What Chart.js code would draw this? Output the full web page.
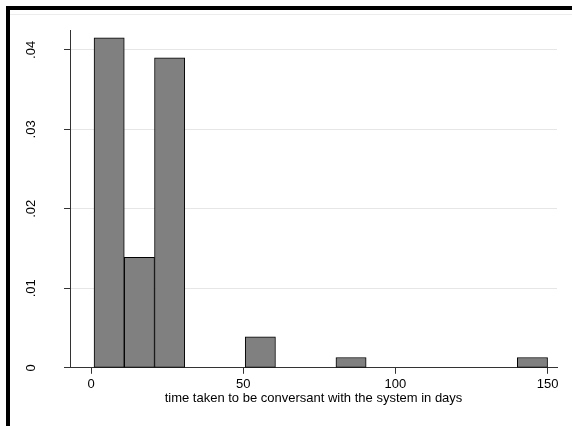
<!DOCTYPE html>
<html>
<head>
<meta charset="utf-8">
<script src="https://cdn.jsdelivr.net/npm/chart.js@4"></script>
<style>
  html, body { margin: 0; padding: 0; background: #fff; }
  #wrap { position: relative; width: 572px; height: 426px; overflow: hidden; }
  #frameTop { position: absolute; left: 6px; top: 6px; width: 566px; height: 4px; background: #000; }
  #frameLeft { position: absolute; left: 6px; top: 6px; width: 4px; height: 420px; background: #000; }
  #faint { position: absolute; left: 10px; top: 14px; width: 562px; height: 1px; background: #ececec; }
  canvas { position: absolute; left: 0; top: 0; }
</style>
</head>
<body>
<div id="wrap">
  <canvas id="hist" width="572" height="426"></canvas>
  <div id="faint"></div>
  <div id="frameTop"></div>
  <div id="frameLeft"></div>
</div>
<script>
// histogram bin edges (days) and density heights per bin
const binEdges = [1, 10.93, 20.87, 30.8, 40.73, 50.67, 60.6, 70.53, 80.47, 90.4, 100.33, 110.27, 120.2, 130.13, 140.07, 150];
const density = [0.0415, 0.0139, 0.0390, 0, 0, 0.0039, 0, 0, 0.0013, 0, 0, 0, 0, 0, 0.0013];
const xTicks = [0, 50, 100, 150];
const yTicks = [0, 0.01, 0.02, 0.03, 0.04];
const yTickLabels = ['0', '.01', '.02', '.03', '.04'];
const xTitle = 'time taken to be conversant with the system in days';

const FONT = 'Arial, "Liberation Sans", Helvetica, sans-serif';

// bars are placed at bin centres
let points = density.map((d, i) => ({ x: (binEdges[i] + binEdges[i + 1]) / 2, y: d }));

// y tick labels in Stata are rotated, so draw them by hand at the scale's positions
const rotatedYLabels = {
    id: 'rotatedYLabels',
    afterDraw(chart) {
        const ctx = chart.ctx;
        const yScale = chart.scales.y;
        ctx.save();
        ctx.fillStyle = '#000';
        ctx.font = '13px ' + FONT;
        ctx.textAlign = 'center';
        ctx.textBaseline = 'alphabetic';
        yTicks.forEach((v, i) => {
            const py = yScale.getPixelForValue(v);
            ctx.save();
            ctx.translate(35, py);
            ctx.rotate(-Math.PI / 2);
            ctx.fillText(yTickLabels[i], 0, 0);
            ctx.restore();
        });
        ctx.restore();
    }
};

new Chart(document.getElementById('hist'), {
    type: 'bar',
    data: {
        datasets: [{
            data: points,
            backgroundColor: '#808080',
            borderColor: '#000',
            borderWidth: 1,
            borderSkipped: false,
            barPercentage: 1,
            categoryPercentage: 1
        }]
    },
    options: {
        responsive: false,
        animation: false,
        layout: { padding: { left: 64, right: 15, top: 30, bottom: 6 } },
        plugins: { legend: { display: false }, tooltip: { enabled: false } },
        scales: {
            x: {
                type: 'linear',
                offset: false,
                min: -6.9,
                max: 153.1,
                afterBuildTicks: (s) => { s.ticks = xTicks.map(v => ({ value: v })); },
                grid: { offset: false, drawOnChartArea: false, drawTicks: true, tickLength: 6, tickColor: '#333' },
                border: { display: true, color: '#333', width: 1 },
                ticks: { color: '#000', font: { size: 13, family: FONT }, padding: 3, maxRotation: 0 },
                title: { display: true, text: xTitle, color: '#000', font: { size: 13, family: FONT }, padding: { top: -5, bottom: 14 } }
            },
            y: {
                min: 0,
                max: 0.0425,
                afterBuildTicks: (s) => { s.ticks = yTicks.map(v => ({ value: v })); },
                grid: { color: '#e6e6e6', drawTicks: true, tickLength: 6, tickColor: '#333' },
                border: { display: true, color: '#333', width: 1 },
                ticks: { display: false }
            }
        }
    },
    plugins: [rotatedYLabels]
});
</script>
</body>
</html>
